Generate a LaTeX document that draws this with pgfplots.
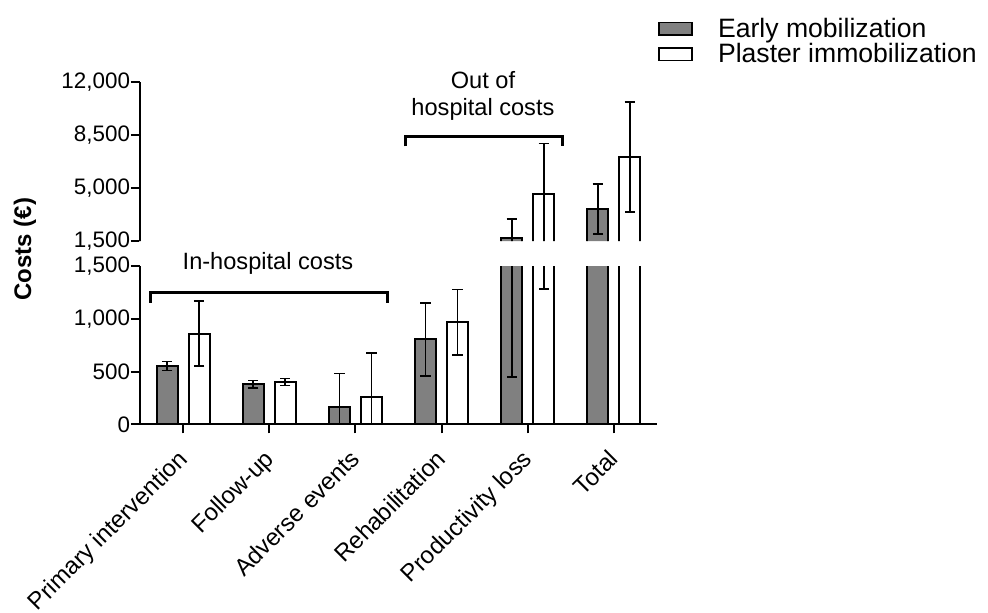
\documentclass[border=0pt]{standalone}
\usepackage{pgfplots}
\usepackage{pgfplotstable}
\pgfplotsset{compat=1.18}
\usepackage{fontspec}
\setmainfont{Liberation Sans}
\definecolor{barfill}{HTML}{808080}
\pgfplotstableread{
x em emerr pi pierr
0 553 42 860 308
1 380 35 400 34
2 165 315 262 415
3 805 345 968 310
4 1700 1250 4600 3320
5 3600 1650 7050 3620
}\data
\pgfplotsset{
  common/.style={
    scale only axis,
    width=258.5pt,
    xmin=-0.5, xmax=5.5,
    axis y line*=left,
    tick align=outside,
    major tick length=4.5pt,
    axis line style={line width=1pt, black},
    every tick/.style={black, line width=1pt},
    scaled y ticks=false,
    /pgf/number format/assume math mode=true,
    /pgf/number format/1000 sep={,},
    tick label style={font=\fontsize{11.2}{13}\selectfont, black},
    y tick label style={inner sep=0.3pt},
    ybar, bar width=10.5pt,
    every axis plot/.append style={line width=1pt, draw=black},
    error bars/error bar style={line width=0.8pt, black},
    error bars/error mark options={rotate=90, line width=0.8pt, black, mark size=2.6pt},
  },
  emplot/.style={fill=barfill, bar shift=-8pt},
  piplot/.style={fill=white, bar shift=8pt},
}
\begin{document}
\begin{tikzpicture}
\path[use as bounding box] (-70pt,-93.85pt) rectangle (424pt,212.15pt);
% lower axis
\begin{axis}[common,
  at={(0pt,0pt)}, anchor=south west,
  height=79.15pt,
  ymin=0, ymax=1500,
  ytick={0,500,1000,1500},
  axis x line*=bottom,
  xtick={0,1,2,3,4,5},
  xticklabels={Primary intervention, Follow-up, Adverse events, Rehabilitation, Productivity loss, Total},
  x tick label style={rotate=45, anchor=north east, inner sep=0pt, xshift=-7.5pt, yshift=-2.8pt, font=\fontsize{12}{14}\selectfont},
]
\addplot[emplot, error bars/.cd, y dir=both, y explicit] table[x=x, y=em, y error=emerr] {\data};
\addplot[piplot, error bars/.cd, y dir=both, y explicit] table[x=x, y=pi, y error=pierr] {\data};
\coordinate (b1l) at (axis cs:-0.373,1154);
\coordinate (b1lt) at (axis cs:-0.373,1249);
\coordinate (b1rt) at (axis cs:2.37,1249);
\coordinate (b1r) at (axis cs:2.37,1154);
\coordinate (t1) at (axis cs:0.985,1465);
\end{axis}
% upper axis (drawn from 0, shown above the break only)
\begin{scope}
\clip (-70pt,84pt) -- (-0.6pt,84pt) -- (-0.6pt,91.65pt) -- (430pt,91.65pt) -- (430pt,215pt) -- (-70pt,215pt) -- cycle;
\begin{axis}[common,
  at={(0pt,80.27pt)}, anchor=south west,
  height=91.03pt,
  ymin=0, ymax=12000,
  ytick={1500,5000,8500,12000},
  axis x line=none,
  legend style={at={(1.002,1.359)}, anchor=north west, draw=none, fill=none,
    font=\fontsize{13.3}{15}\selectfont, row sep=0.5pt, inner sep=0pt,
    nodes={inner sep=0.5pt},
    /tikz/every odd column/.append style={column sep=12pt}},
  legend cell align=left,
  legend image code/.code={\draw[#1, line width=0.8pt] (0pt,-3.2pt) rectangle (16.5pt,3.2pt);},
]
\addplot[emplot, error bars/.cd, y dir=both, y explicit] table[x=x, y=em, y error=emerr] {\data};
\addlegendentry{Early mobilization}
\addplot[piplot, error bars/.cd, y dir=both, y explicit] table[x=x, y=pi, y error=pierr] {\data};
\addlegendentry{Plaster immobilization}
\coordinate (b2l) at (axis cs:2.58,7740);
\coordinate (b2lt) at (axis cs:2.58,8363);
\coordinate (b2rt) at (axis cs:4.40,8363);
\coordinate (b2r) at (axis cs:4.40,7740);
\coordinate (t2) at (axis cs:3.48,9805);
\end{axis}
\end{scope}
\draw[line width=1.5pt] (b1l) -- (b1lt) -- (b1rt) -- (b1r);
\draw[line width=1.5pt] (b2l) -- (b2lt) -- (b2rt) -- (b2r);
\node[anchor=base, font=\fontsize{11.8}{14}\selectfont, inner sep=0pt] at (t1) {In-hospital costs};
\node[anchor=base, font=\fontsize{11.8}{14}\selectfont, inner sep=0pt] at (t2) {hospital costs};
\node[anchor=base, font=\fontsize{11.8}{14}\selectfont, inner sep=0pt] at ([yshift=13.3pt]t2) {Out of};
\node[rotate=90, font=\fontsize{12}{14}\selectfont\bfseries] at (-57.5pt,87.65pt) {Costs (€)};
\end{tikzpicture}
\end{document}
